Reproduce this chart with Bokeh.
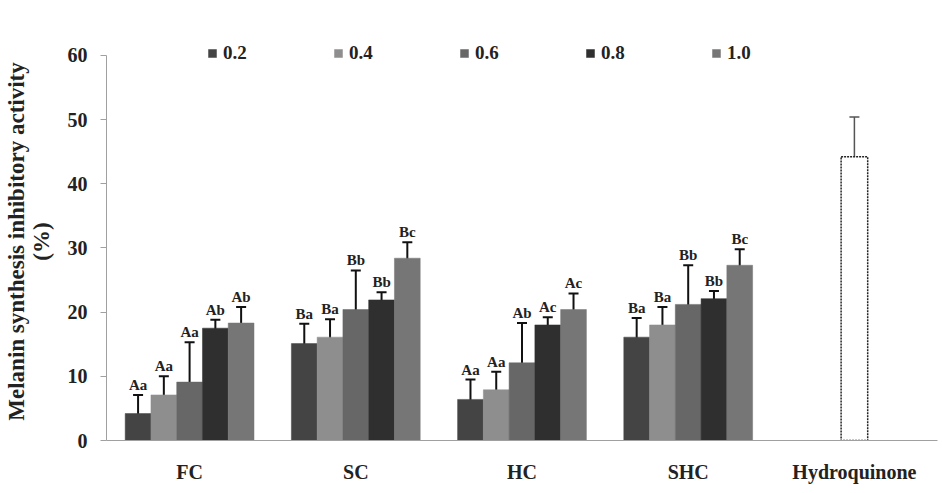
from bokeh.plotting import figure
from bokeh.models import (ColumnDataSource, FactorRange, Range1d, Whisker, TeeHead,
                          Legend, LegendItem, Label, FixedTicker)
from bokeh.transform import dodge
from bokeh.core.properties import value
from bokeh.embed import file_html
from bokeh.resources import INLINE

categories = ["FC", "SC", "HC", "SHC", "Hydroquinone"]
groups = ["FC", "SC", "HC", "SHC"]
concentrations = ["0.2", "0.4", "0.6", "0.8", "1.0"]

vals_02 = [4.2, 15.1, 6.4, 16.1]
vals_04 = [7.1, 16.1, 7.9, 18.0]
vals_06 = [9.1, 20.4, 12.1, 21.2]
vals_08 = [17.5, 21.9, 18.0, 22.1]
vals_10 = [18.3, 28.4, 20.4, 27.3]

err_02 = [2.9, 3.1, 3.1, 3.0]
err_04 = [2.9, 2.8, 2.8, 2.8]
err_06 = [6.2, 6.1, 6.2, 6.1]
err_08 = [1.3, 1.2, 1.2, 1.2]
err_10 = [2.5, 2.5, 2.5, 2.5]

let_02 = ["Aa", "Ba", "Aa", "Ba"]
let_04 = ["Aa", "Ba", "Aa", "Ba"]
let_06 = ["Aa", "Bb", "Ab", "Bb"]
let_08 = ["Ab", "Bb", "Ac", "Bb"]
let_10 = ["Ab", "Bc", "Ac", "Bc"]

hq_label = "Hydroquinone"
hq_sub = "(0.2 mg/mL)"
hq_value = [44.2]
hq_err = [6.2]

y_ticks = [0, 10, 20, 30, 40, 50, 60]
y_label = "Melanin synthesis inhibitory activity\n(%)"

colors = ["#444444", "#8e8e8e", "#676767", "#2f2f2f", "#767676"]
offsets = [-0.31, -0.155, 0.0, 0.155, 0.31]
bar_w = 0.155
serif = "Liberation Serif"

p = figure(x_range=FactorRange(*categories), y_range=Range1d(0, 62),
           width=942, height=493, output_backend="svg", toolbar_location=None,
           min_border_left=105, min_border_right=5, min_border_top=42, min_border_bottom=53)
p.outline_line_color = None
p.grid.grid_line_color = None

series = [(vals_02, err_02, let_02), (vals_04, err_04, let_04), (vals_06, err_06, let_06),
          (vals_08, err_08, let_08), (vals_10, err_10, let_10)]

items = []
for i, (v, e, l) in enumerate(series):
    src = ColumnDataSource(dict(
        group=groups, top=v,
        upper=[a + b for a, b in zip(v, e)],
        lower=[a - b for a, b in zip(v, e)],
        letters=l))
    r = p.vbar(x=dodge("group", offsets[i], range=p.x_range), top="top", width=bar_w,
               source=src, fill_color=colors[i], line_color=colors[i], line_width=0.5)
    items.append(LegendItem(label=concentrations[i], renderers=[r]))
    w = Whisker(base=dodge("group", offsets[i], range=p.x_range), upper="upper", lower="lower",
                source=src, dimension="height", line_color="#111111", line_width=2,
                upper_head=TeeHead(size=10, line_color="#111111", line_width=2),
                lower_head=TeeHead(size=10, line_color="#111111", line_width=2))
    p.add_layout(w)
    p.text(x=dodge("group", offsets[i], range=p.x_range), y="upper", text="letters", source=src,
           text_font=value(serif), text_font_style="bold", text_font_size="15px",
           text_color="#222222", text_align="center", text_baseline="bottom", y_offset=-2)

hq_src = ColumnDataSource(dict(
    cat=[hq_label], top=hq_value,
    upper=[a + b for a, b in zip(hq_value, hq_err)],
    lower=[a - b for a, b in zip(hq_value, hq_err)]))
p.vbar(x="cat", top="top", width=0.16, source=hq_src, fill_color="white",
       line_color="#222222", line_width=1.5, line_dash="2 1")
p.add_layout(Whisker(base="cat", upper="upper", lower="lower", source=hq_src,
                     dimension="height", line_color="#555555", line_width=1.5,
                     upper_head=TeeHead(size=10, line_color="#555555", line_width=1.5),
                     lower_head=TeeHead(size=10, line_color="#555555", line_width=1.5)))

legend = Legend(items=items, orientation="horizontal", location=(101, 376),
                padding=0, margin=0, spacing=70, label_standoff=6,
                glyph_width=10, glyph_height=10, label_width=40, label_height=20,
                border_line_color=None, background_fill_alpha=0,
                label_text_font=serif, label_text_font_style="bold",
                label_text_font_size="19px", label_text_color="#222222")
p.add_layout(legend)

# y axis (line only spans the 0-60 ticks)
p.yaxis.bounds = (y_ticks[0], y_ticks[-1])
p.yaxis.ticker = FixedTicker(ticks=y_ticks)
p.yaxis.axis_line_color = "#a0a0a0"
p.yaxis.major_tick_line_color = "#a0a0a0"
p.yaxis.major_tick_out = 6
p.yaxis.major_tick_in = 0
p.yaxis.minor_tick_line_color = None
p.yaxis.major_label_standoff = 13
p.yaxis.major_label_text_font = serif
p.yaxis.major_label_text_font_style = "bold"
p.yaxis.major_label_text_font_size = "20px"
p.yaxis.major_label_text_color = "#222222"
p.yaxis.axis_label = y_label
p.yaxis.axis_label_text_font = serif
p.yaxis.axis_label_text_font_style = "bold"
p.yaxis.axis_label_text_font_size = "23px"
p.yaxis.axis_label_text_line_height = 1.0
p.yaxis.axis_label_text_color = "#222222"
p.yaxis.axis_label_standoff = 11

# x axis
p.xaxis.axis_line_color = "#a0a0a0"
p.xaxis.major_tick_line_color = None
p.xaxis.minor_tick_line_color = None
p.xaxis.major_tick_out = 0
p.xaxis.major_label_standoff = 20
p.xaxis.major_label_text_font = serif
p.xaxis.major_label_text_font_style = "bold"
p.xaxis.major_label_text_font_size = "20px"
p.xaxis.major_label_text_color = "#222222"

# second line of the Hydroquinone category label (synthetic categorical coordinate = index + 0.5)
hq_x = categories.index(hq_label) + 0.5
p.add_layout(Label(x=hq_x, y=0, y_offset=-46, text=hq_sub, text_align="center",
                   text_baseline="top", text_font=serif, text_font_style="bold",
                   text_font_size="20px", text_color="#222222"))

open("out.html", "w").write(file_html(p, INLINE))
